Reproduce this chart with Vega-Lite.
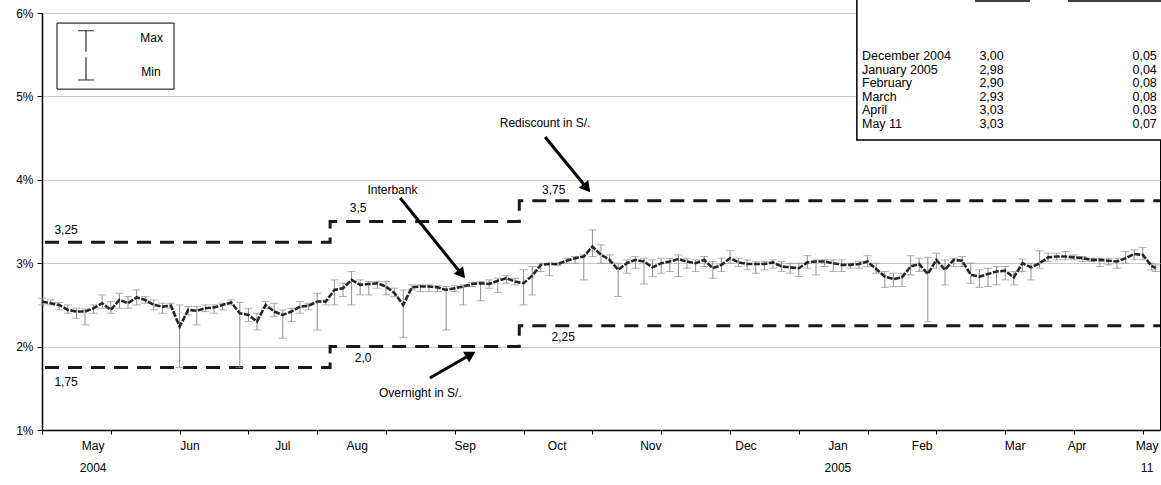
{
 "$schema": "https://vega.github.io/schema/vega-lite/v6.json",
 "width": 1118, "height": 417,
 "autosize": {"type": "none"},
 "padding": {"left": 42, "top": 13, "right": 1, "bottom": 55},
 "background": "#ffffff",
 "config": {"view": {"stroke": "#000", "strokeWidth": 1}, "font": "Liberation Sans", "text": {"font": "Liberation Sans", "fontSize": 12, "color": "#000"}},
 "datasets": {
  "one": [{}],
  "ib": [
   {"d":0,"v":2.54,"lo":2.50,"hi":2.58},{"d":2,"v":2.52,"lo":2.50,"hi":2.56},{"d":4,"v":2.50,"lo":2.44,"hi":2.53},{"d":6,"v":2.44,"lo":2.40,"hi":2.50},
   {"d":8,"v":2.42,"lo":2.34,"hi":2.46},{"d":10,"v":2.42,"lo":2.26,"hi":2.45},{"d":12,"v":2.46,"lo":2.40,"hi":2.50},{"d":14,"v":2.52,"lo":2.46,"hi":2.62},
   {"d":16,"v":2.44,"lo":2.40,"hi":2.54},{"d":18,"v":2.56,"lo":2.46,"hi":2.64},{"d":20,"v":2.52,"lo":2.46,"hi":2.60},{"d":22,"v":2.59,"lo":2.50,"hi":2.68},
   {"d":24,"v":2.56,"lo":2.52,"hi":2.60},{"d":26,"v":2.50,"lo":2.44,"hi":2.56},{"d":28,"v":2.48,"lo":2.40,"hi":2.52},{"d":30,"v":2.49,"lo":2.46,"hi":2.52},
   {"d":32,"v":2.24,"lo":1.75,"hi":2.50},{"d":34,"v":2.44,"lo":2.38,"hi":2.48},{"d":36,"v":2.43,"lo":2.26,"hi":2.48},{"d":38,"v":2.46,"lo":2.42,"hi":2.50},
   {"d":40,"v":2.47,"lo":2.40,"hi":2.50},{"d":42,"v":2.50,"lo":2.44,"hi":2.52},{"d":44,"v":2.53,"lo":2.50,"hi":2.56},{"d":46,"v":2.40,"lo":1.75,"hi":2.53},
   {"d":48,"v":2.38,"lo":2.30,"hi":2.46},{"d":50,"v":2.30,"lo":2.20,"hi":2.40},{"d":52,"v":2.50,"lo":2.46,"hi":2.54},{"d":54,"v":2.42,"lo":2.36,"hi":2.52},
   {"d":56,"v":2.38,"lo":2.10,"hi":2.44},{"d":58,"v":2.42,"lo":2.30,"hi":2.46},{"d":60,"v":2.48,"lo":2.40,"hi":2.54},{"d":62,"v":2.49,"lo":2.44,"hi":2.52},
   {"d":64,"v":2.54,"lo":2.20,"hi":2.64},{"d":66,"v":2.54,"lo":2.50,"hi":2.56},{"d":68,"v":2.68,"lo":2.50,"hi":2.80},{"d":70,"v":2.70,"lo":2.60,"hi":2.76},
   {"d":72,"v":2.80,"lo":2.50,"hi":2.90},{"d":74,"v":2.74,"lo":2.62,"hi":2.80},{"d":76,"v":2.75,"lo":2.62,"hi":2.78},{"d":78,"v":2.76,"lo":2.70,"hi":2.78},
   {"d":80,"v":2.72,"lo":2.62,"hi":2.78},{"d":82,"v":2.64,"lo":2.60,"hi":2.70},{"d":84,"v":2.50,"lo":2.11,"hi":2.68},{"d":86,"v":2.71,"lo":2.68,"hi":2.74},
   {"d":88,"v":2.72,"lo":2.66,"hi":2.74},{"d":90,"v":2.72,"lo":2.66,"hi":2.74},{"d":92,"v":2.71,"lo":2.66,"hi":2.73},{"d":94,"v":2.68,"lo":2.20,"hi":2.72},
   {"d":96,"v":2.70,"lo":2.66,"hi":2.73},{"d":98,"v":2.72,"lo":2.50,"hi":2.74},{"d":100,"v":2.75,"lo":2.72,"hi":2.77},{"d":102,"v":2.76,"lo":2.55,"hi":2.78},
   {"d":104,"v":2.75,"lo":2.70,"hi":2.80},{"d":106,"v":2.79,"lo":2.65,"hi":2.82},{"d":108,"v":2.82,"lo":2.76,"hi":2.85},{"d":110,"v":2.78,"lo":2.74,"hi":2.82},
   {"d":112,"v":2.76,"lo":2.50,"hi":2.92},{"d":114,"v":2.85,"lo":2.62,"hi":2.96},{"d":116,"v":2.98,"lo":2.90,"hi":3.00},{"d":118,"v":2.99,"lo":2.85,"hi":3.00},
   {"d":120,"v":2.99,"lo":2.97,"hi":3.00},{"d":122,"v":3.03,"lo":3.00,"hi":3.06},{"d":124,"v":3.06,"lo":3.00,"hi":3.08},{"d":126,"v":3.08,"lo":2.80,"hi":3.10},
   {"d":128,"v":3.20,"lo":3.08,"hi":3.40},{"d":130,"v":3.10,"lo":3.00,"hi":3.22},{"d":132,"v":3.04,"lo":3.00,"hi":3.10},{"d":134,"v":2.92,"lo":2.60,"hi":3.00},
   {"d":136,"v":3.00,"lo":2.88,"hi":3.04},{"d":138,"v":3.04,"lo":2.94,"hi":3.08},{"d":140,"v":3.02,"lo":2.75,"hi":3.06},{"d":142,"v":2.95,"lo":2.84,"hi":3.04},
   {"d":144,"v":3.00,"lo":2.88,"hi":3.06},{"d":146,"v":3.02,"lo":2.90,"hi":3.06},{"d":148,"v":3.05,"lo":2.84,"hi":3.10},{"d":150,"v":3.02,"lo":2.94,"hi":3.06},
   {"d":152,"v":3.00,"lo":2.90,"hi":3.04},{"d":154,"v":3.04,"lo":2.96,"hi":3.08},{"d":156,"v":2.94,"lo":2.82,"hi":3.02},{"d":158,"v":2.98,"lo":2.90,"hi":3.06},
   {"d":160,"v":3.06,"lo":3.00,"hi":3.15},{"d":162,"v":3.01,"lo":2.96,"hi":3.06},{"d":164,"v":2.99,"lo":2.92,"hi":3.04},{"d":166,"v":2.99,"lo":2.88,"hi":3.02},
   {"d":168,"v":2.99,"lo":2.92,"hi":3.02},{"d":170,"v":3.01,"lo":2.94,"hi":3.04},{"d":172,"v":2.96,"lo":2.90,"hi":3.02},{"d":174,"v":2.95,"lo":2.88,"hi":3.00},
   {"d":176,"v":2.94,"lo":2.84,"hi":3.00},{"d":178,"v":3.01,"lo":2.94,"hi":3.09},{"d":180,"v":3.02,"lo":2.86,"hi":3.04},{"d":182,"v":3.02,"lo":2.96,"hi":3.04},
   {"d":184,"v":3.00,"lo":2.90,"hi":3.04},{"d":186,"v":2.98,"lo":2.90,"hi":3.04},{"d":188,"v":2.98,"lo":2.94,"hi":3.00},{"d":190,"v":2.99,"lo":2.94,"hi":3.02},
   {"d":192,"v":3.02,"lo":2.96,"hi":3.09},{"d":194,"v":2.93,"lo":2.88,"hi":3.00},{"d":196,"v":2.84,"lo":2.71,"hi":2.90},{"d":198,"v":2.81,"lo":2.72,"hi":2.88},
   {"d":200,"v":2.83,"lo":2.72,"hi":2.88},{"d":202,"v":2.96,"lo":2.86,"hi":3.09},{"d":204,"v":2.99,"lo":2.90,"hi":3.06},{"d":206,"v":2.87,"lo":2.30,"hi":3.07},
   {"d":208,"v":3.04,"lo":2.94,"hi":3.12},{"d":210,"v":2.92,"lo":2.74,"hi":3.04},{"d":212,"v":3.04,"lo":2.96,"hi":3.06},{"d":214,"v":3.03,"lo":2.96,"hi":3.08},
   {"d":216,"v":2.86,"lo":2.76,"hi":3.00},{"d":218,"v":2.84,"lo":2.71,"hi":2.92},{"d":220,"v":2.87,"lo":2.72,"hi":2.94},{"d":222,"v":2.90,"lo":2.74,"hi":2.96},
   {"d":224,"v":2.91,"lo":2.80,"hi":2.96},{"d":226,"v":2.83,"lo":2.74,"hi":2.90},{"d":228,"v":3.00,"lo":2.90,"hi":3.05},{"d":230,"v":2.95,"lo":2.80,"hi":3.00},
   {"d":232,"v":3.00,"lo":2.94,"hi":3.15},{"d":234,"v":3.07,"lo":3.02,"hi":3.12},{"d":236,"v":3.08,"lo":3.04,"hi":3.12},{"d":238,"v":3.08,"lo":3.04,"hi":3.14},
   {"d":240,"v":3.07,"lo":3.04,"hi":3.10},{"d":242,"v":3.06,"lo":3.02,"hi":3.08},{"d":244,"v":3.04,"lo":3.02,"hi":3.06},{"d":246,"v":3.04,"lo":2.96,"hi":3.06},
   {"d":248,"v":3.03,"lo":2.98,"hi":3.06},{"d":250,"v":3.02,"lo":2.94,"hi":3.06},{"d":252,"v":3.06,"lo":3.00,"hi":3.14},{"d":254,"v":3.11,"lo":3.04,"hi":3.16},
   {"d":256,"v":3.10,"lo":3.04,"hi":3.19},{"d":258,"v":2.97,"lo":2.92,"hi":3.00},{"d":259,"v":2.94,"lo":2.90,"hi":2.98}
  ],
  "rates": [
   {"s":"R","d":0.7,"v":3.25},{"s":"R","d":67,"v":3.5},{"s":"R","d":111,"v":3.75},{"s":"R","d":260,"v":3.75},
   {"s":"O","d":0.7,"v":1.75},{"s":"O","d":67,"v":2.0},{"s":"O","d":111,"v":2.25},{"s":"O","d":260,"v":2.25}
  ],
  "notes": [
   {"t":"Rediscount in S/.","d":117.0,"v":4.68},{"t":"Interbank","d":81.5,"v":3.878},{"t":"Overnight in S/.","d":88.0,"v":1.444},
   {"t":"3,25","d":5.6,"v":3.40},{"t":"3,5","d":73.5,"v":3.662},{"t":"3,75","d":119.0,"v":3.878},
   {"t":"2,0","d":74.7,"v":1.863},{"t":"2,25","d":121.2,"v":2.115},{"t":"1,75","d":5.6,"v":1.576},
   {"t":"Max","d":25.5,"v":5.697},{"t":"Min","d":25.35,"v":5.293}
  ],
  "arrows": [
   {"d":117.0,"v":4.513,"d2":126.7,"v2":3.901},{"d":83.3,"v":3.782,"d2":97.6,"v2":2.869},{"d":90.2,"v":1.624,"d2":99.7,"v2":1.905}
  ],
  "months": [
   {"t":"May\n2004","d":11.9},{"t":"Jun","d":34.4},{"t":"Jul","d":56.0},{"t":"Aug","d":73.3},{"t":"Sep","d":98.4},{"t":"Oct","d":119.8},
   {"t":"Nov","d":141.6},{"t":"Dec","d":163.7},{"t":"Jan\n2005","d":185.1},{"t":"Feb","d":204.7},{"t":"Mar","d":226.3},{"t":"Apr","d":240.7},{"t":"May\n11","d":257.0}
  ],
  "table": [
   {"m":"December 2004","a":"3,00","s":"0,05"},{"m":"January 2005","a":"2,98","s":"0,04"},{"m":"February","a":"2,90","s":"0,08"},
   {"m":"March","a":"2,93","s":"0,08"},{"m":"April","a":"3,03","s":"0,03"},{"m":"May 11","a":"3,03","s":"0,07"}
  ]
 },
 "layer": [
  {"layer": [
   {"data": {"name": "rates"}, "mark": {"type": "line", "interpolate": "step-after", "strokeDash": [14, 9], "strokeWidth": 3, "color": "#1a1a1a"},
    "encoding": {
     "x": {"field": "d", "type": "quantitative", "scale": {"domain": [0, 260], "nice": false, "zero": false},
           "axis": {"grid": false, "labels": false, "ticks": true, "values": [0,1,2,3,4,5,6,7,8,9,10,11,12,13,14,15,16,17,18,19,20,21,22,23,24,25,26,27,28,29,30,31,32,33,34,35,36,37,38,39,40,41,42,43,44,45,46,47,48,49,50,51,52,53,54,55,56,57,58,59,60,61,62,63,64,65,66,67,68,69,70,71,72,73,74,75,76,77,78,79,80,81,82,83,84,85,86,87,88,89,90,91,92,93,94,95,96,97,98,99,100,101,102,103,104,105,106,107,108,109,110,111,112,113,114,115,116,117,118,119,120,121,122,123,124,125,126,127,128,129,130,131,132,133,134,135,136,137,138,139,140,141,142,143,144,145,146,147,148,149,150,151,152,153,154,155,156,157,158,159,160,161,162,163,164,165,166,167,168,169,170,171,172,173,174,175,176,177,178,179,180,181,182,183,184,185,186,187,188,189,190,191,192,193,194,195,196,197,198,199,200,201,202,203,204,205,206,207,208,209,210,211,212,213,214,215,216,217,218,219,220,221,222,223,224,225,226,227,228,229,230,231,232,233,234,235,236,237,238,239,240,241,242,243,244,245,246,247,248,249,250,251,252,253,254,255,256,257,258,259,260], "tickSize": 4, "tickWidth": 1, "tickColor": "#000", "domainColor": "#000", "domainWidth": 1.5, "title": null}},
     "y": {"field": "v", "type": "quantitative", "scale": {"domain": [1, 6], "nice": false, "zero": false},
           "axis": {"values": [1, 2, 3, 4, 5, 6], "labelExpr": "datum.value + '%'", "grid": true, "gridColor": "#c8c8c8", "tickSize": 5, "tickColor": "#000", "domainColor": "#000", "domainWidth": 1.5, "labelFontSize": 12, "labelColor": "#000", "labelFont": "Liberation Sans", "labelPadding": 4, "title": null}},
     "detail": {"field": "s"}}},
   {"data": {"name": "ib"}, "mark": {"type": "rule", "color": "#8f8f8f", "strokeWidth": 1},
    "encoding": {"x": {"field": "d", "type": "quantitative", "scale": {"domain": [0, 260], "nice": false, "zero": false}, "title": null},
     "y": {"field": "lo", "type": "quantitative", "scale": {"domain": [1, 6], "nice": false, "zero": false}, "title": null}, "y2": {"field": "hi"}}},
   {"data": {"name": "ib"}, "mark": {"type": "tick", "orient": "horizontal", "size": 8, "thickness": 1, "color": "#8f8f8f"},
    "encoding": {"x": {"field": "d", "type": "quantitative", "scale": {"domain": [0, 260], "nice": false, "zero": false}, "title": null},
     "y": {"field": "lo", "type": "quantitative", "scale": {"domain": [1, 6], "nice": false, "zero": false}, "title": null}}},
   {"data": {"name": "ib"}, "mark": {"type": "tick", "orient": "horizontal", "size": 8, "thickness": 1, "color": "#8f8f8f"},
    "encoding": {"x": {"field": "d", "type": "quantitative", "scale": {"domain": [0, 260], "nice": false, "zero": false}, "title": null},
     "y": {"field": "hi", "type": "quantitative", "scale": {"domain": [1, 6], "nice": false, "zero": false}, "title": null}}},
   {"data": {"name": "ib"}, "mark": {"type": "line", "color": "#262626", "strokeWidth": 2.6, "strokeDash": [6, 1.5]},
    "encoding": {"x": {"field": "d", "type": "quantitative", "scale": {"domain": [0, 260], "nice": false, "zero": false}, "title": null},
     "y": {"field": "v", "type": "quantitative", "scale": {"domain": [1, 6], "nice": false, "zero": false}, "title": null}}},
   {"data": {"name": "arrows"}, "mark": {"type": "rule", "color": "#000", "strokeWidth": 3},
    "encoding": {"x": {"field": "d", "type": "quantitative", "scale": {"domain": [0, 260], "nice": false, "zero": false}, "title": null},
     "y": {"field": "v", "type": "quantitative", "scale": {"domain": [1, 6], "nice": false, "zero": false}, "title": null},
     "x2": {"field": "d2"}, "y2": {"field": "v2"}}},
   {"data": {"name": "one"}, "mark": {"type": "point", "shape": "triangle-up", "filled": true, "color": "#000", "opacity": 1, "size": 150, "angle": 140.7},
    "encoding": {"x": {"datum": 126.7, "type": "quantitative", "scale": {"domain": [0, 260], "nice": false, "zero": false}, "title": null},
     "y": {"datum": 3.901, "type": "quantitative", "scale": {"domain": [1, 6], "nice": false, "zero": false}, "title": null}}},
   {"data": {"name": "one"}, "mark": {"type": "point", "shape": "triangle-up", "filled": true, "color": "#000", "opacity": 1, "size": 150, "angle": 140.9},
    "encoding": {"x": {"datum": 97.6, "type": "quantitative", "scale": {"domain": [0, 260], "nice": false, "zero": false}, "title": null},
     "y": {"datum": 2.869, "type": "quantitative", "scale": {"domain": [1, 6], "nice": false, "zero": false}, "title": null}}},
   {"data": {"name": "one"}, "mark": {"type": "point", "shape": "triangle-up", "filled": true, "color": "#000", "opacity": 1, "size": 150, "angle": 60},
    "encoding": {"x": {"datum": 99.7, "type": "quantitative", "scale": {"domain": [0, 260], "nice": false, "zero": false}, "title": null},
     "y": {"datum": 1.905, "type": "quantitative", "scale": {"domain": [1, 6], "nice": false, "zero": false}, "title": null}}},
   {"data": {"name": "months"}, "mark": {"type": "text", "baseline": "top", "dy": 11, "lineBreak": "\n", "lineHeight": 22, "fontSize": 12, "color": "#000"},
    "encoding": {"x": {"field": "d", "type": "quantitative", "scale": {"domain": [0, 260], "nice": false, "zero": false}, "title": null},
     "y": {"datum": 1, "type": "quantitative", "scale": {"domain": [1, 6], "nice": false, "zero": false}, "title": null},
     "text": {"field": "t"}}},
   {"data": {"name": "one"}, "mark": {"type": "rect", "fill": "#fff", "stroke": "#000", "strokeWidth": 1},
    "encoding": {"x": {"datum": 3.49, "type": "quantitative", "scale": {"domain": [0, 260], "nice": false, "zero": false}, "title": null}, "x2": {"datum": 30.7},
     "y": {"datum": 5.879, "type": "quantitative", "scale": {"domain": [1, 6], "nice": false, "zero": false}, "title": null}, "y2": {"datum": 5.087}}},
   {"data": {"name": "one"}, "mark": {"type": "rule", "color": "#000", "strokeWidth": 1},
    "encoding": {"x": {"datum": 10.23, "type": "quantitative", "scale": {"domain": [0, 260], "nice": false, "zero": false}, "title": null},
     "y": {"datum": 5.788, "type": "quantitative", "scale": {"domain": [1, 6], "nice": false, "zero": false}, "title": null}, "y2": {"datum": 5.536}}},
   {"data": {"name": "one"}, "mark": {"type": "rule", "color": "#000", "strokeWidth": 1},
    "encoding": {"x": {"datum": 10.23, "type": "quantitative", "scale": {"domain": [0, 260], "nice": false, "zero": false}, "title": null},
     "y": {"datum": 5.469, "type": "quantitative", "scale": {"domain": [1, 6], "nice": false, "zero": false}, "title": null}, "y2": {"datum": 5.197}}},
   {"data": {"name": "one"}, "mark": {"type": "tick", "orient": "horizontal", "size": 16, "thickness": 1.2, "color": "#000"},
    "encoding": {"x": {"datum": 10.23, "type": "quantitative", "scale": {"domain": [0, 260], "nice": false, "zero": false}, "title": null},
     "y": {"datum": 5.788, "type": "quantitative", "scale": {"domain": [1, 6], "nice": false, "zero": false}, "title": null}}},
   {"data": {"name": "one"}, "mark": {"type": "tick", "orient": "horizontal", "size": 16, "thickness": 1.2, "color": "#000"},
    "encoding": {"x": {"datum": 10.23, "type": "quantitative", "scale": {"domain": [0, 260], "nice": false, "zero": false}, "title": null},
     "y": {"datum": 5.197, "type": "quantitative", "scale": {"domain": [1, 6], "nice": false, "zero": false}, "title": null}}},
   {"data": {"name": "notes"}, "mark": {"type": "text", "fontSize": 12, "color": "#000"},
    "encoding": {"x": {"field": "d", "type": "quantitative", "scale": {"domain": [0, 260], "nice": false, "zero": false}, "title": null},
     "y": {"field": "v", "type": "quantitative", "scale": {"domain": [1, 6], "nice": false, "zero": false}, "title": null},
     "text": {"field": "t"}}},
   {"data": {"name": "one"}, "mark": {"type": "rect", "fill": "#fff", "stroke": "#000", "strokeWidth": 1.5},
    "encoding": {"x": {"datum": 189.5, "type": "quantitative", "scale": {"domain": [0, 260], "nice": false, "zero": false}, "title": null}, "x2": {"datum": 268},
     "y": {"datum": 6.3, "type": "quantitative", "scale": {"domain": [1, 6], "nice": false, "zero": false}, "title": null}, "y2": {"datum": 4.477}}},
   {"data": {"name": "one"}, "mark": {"type": "rule", "color": "#000", "strokeWidth": 1.5},
    "encoding": {"x": {"datum": 217.0, "type": "quantitative", "scale": {"domain": [0, 260], "nice": false, "zero": false}, "title": null}, "x2": {"datum": 229.8},
     "y": {"datum": 6.144, "type": "quantitative", "scale": {"domain": [1, 6], "nice": false, "zero": false}, "title": null}}},
   {"data": {"name": "one"}, "mark": {"type": "rule", "color": "#000", "strokeWidth": 1.5},
    "encoding": {"x": {"datum": 238.6, "type": "quantitative", "scale": {"domain": [0, 260], "nice": false, "zero": false}, "title": null}, "x2": {"datum": 262},
     "y": {"datum": 6.144, "type": "quantitative", "scale": {"domain": [1, 6], "nice": false, "zero": false}, "title": null}}}
  ]},
  {"data": {"name": "table"}, "layer": [
   {"mark": {"type": "text", "align": "left", "fontSize": 12.5, "color": "#000"},
    "encoding": {"x": {"datum": 190.7, "type": "quantitative", "scale": {"domain": [0, 260], "nice": false, "zero": false}, "title": null},
     "y": {"field": "m", "type": "ordinal", "sort": null, "scale": {"type": "point", "range": [43, 111], "padding": 0}, "axis": null},
     "text": {"field": "m"}}},
   {"mark": {"type": "text", "align": "left", "fontSize": 12.5, "color": "#000"},
    "encoding": {"x": {"datum": 218.0, "type": "quantitative", "scale": {"domain": [0, 260], "nice": false, "zero": false}, "title": null},
     "y": {"field": "m", "type": "ordinal", "sort": null, "scale": {"type": "point", "range": [43, 111], "padding": 0}, "axis": null},
     "text": {"field": "a"}}},
   {"mark": {"type": "text", "align": "left", "fontSize": 12.5, "color": "#000"},
    "encoding": {"x": {"datum": 253.6, "type": "quantitative", "scale": {"domain": [0, 260], "nice": false, "zero": false}, "title": null},
     "y": {"field": "m", "type": "ordinal", "sort": null, "scale": {"type": "point", "range": [43, 111], "padding": 0}, "axis": null},
     "text": {"field": "s"}}}
  ]}
 ],
 "resolve": {"scale": {"y": "independent"}, "axis": {"y": "independent"}}
}
